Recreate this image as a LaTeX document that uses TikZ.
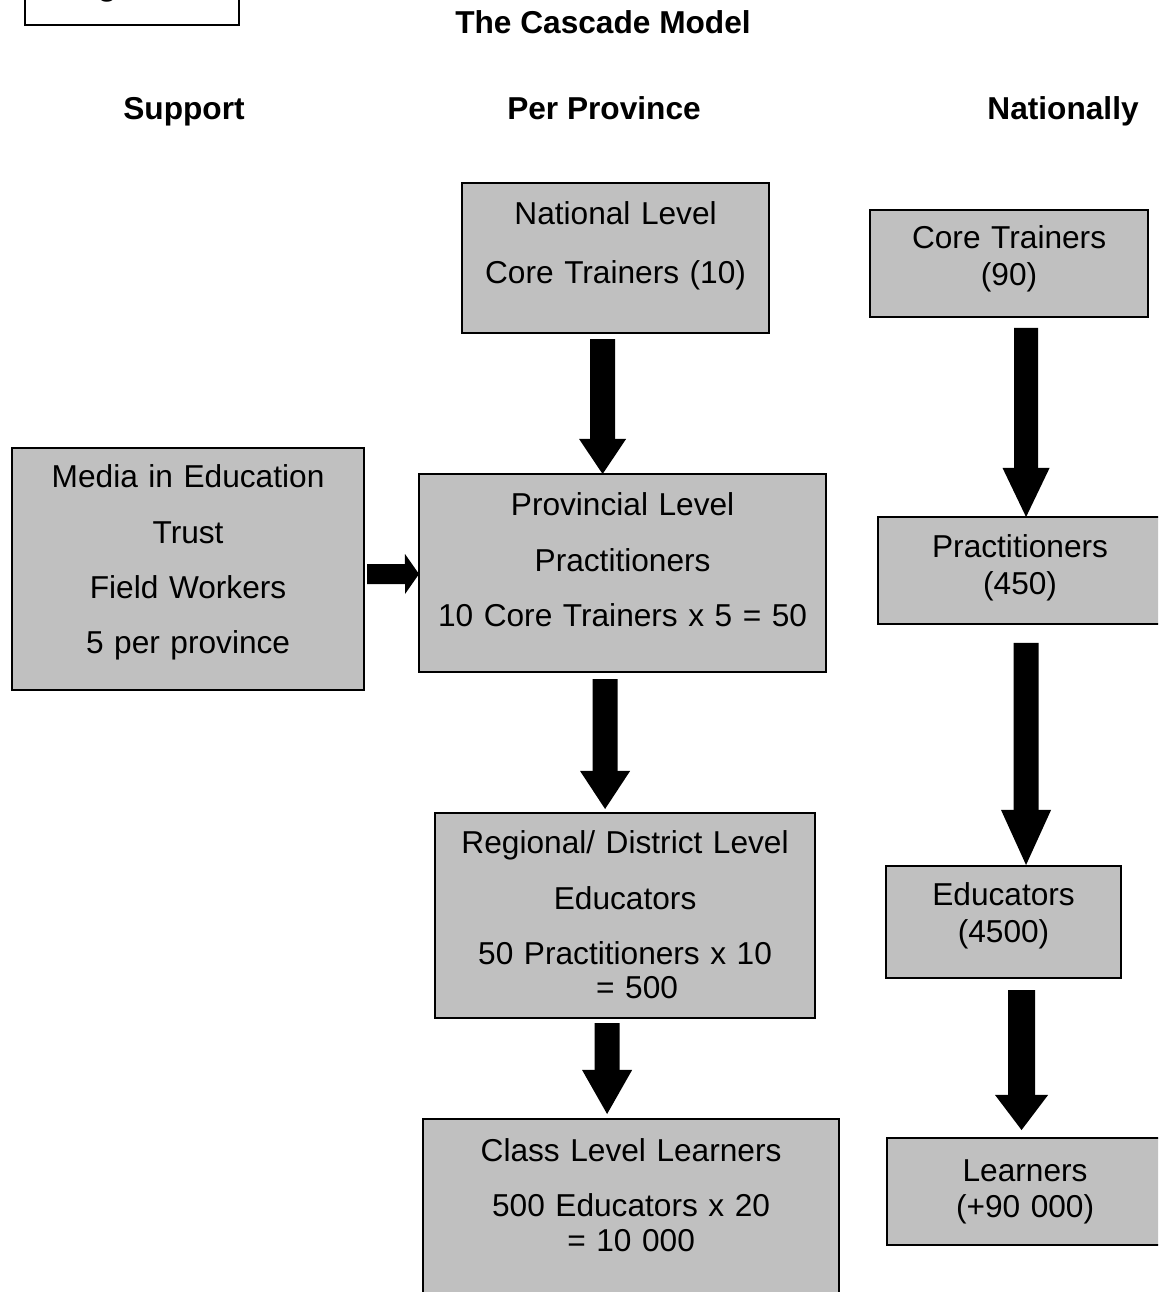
\documentclass[tikz,border=0pt]{standalone}
\usepackage{fontspec}
\setmainfont{Liberation Sans}
\usetikzlibrary{arrows.meta,calc}
\definecolor{boxgray}{RGB}{192,192,192}
\begin{document}
\begin{tikzpicture}[x=0.01cm,y=-0.01cm,
  box/.style={draw=black, line width=0.55pt, fill=boxgray, anchor=north west,
    inner xsep=0pt, inner ysep=0pt, align=center,
    font=\fontsize{9pt}{0.36cm}\selectfont},
  title/.style={anchor=base, inner sep=0pt, font=\fontsize{9pt}{0.36cm}\selectfont\bfseries},
  blk/.style n args={3}{draw=black, line width=#1, line cap=butt,
    -{Triangle[width=#2,length=#3,line width=0pt]}},
]
\useasboundingbox (0,0) rectangle (1158,1292);
\clip (0,0) rectangle (1158,1292);

% figure label box (cut at top, as in the reference)
\node[draw=black, line width=0.55pt, anchor=south west, inner xsep=0pt, inner ysep=0pt,
  text width=2.14cm, align=center, text height=0.40cm, text depth=0.30cm,
  font=\fontsize{9pt}{0.36cm}\selectfont\bfseries] (fig) at (24,26) {Figure 1};

% titles
\node[title] (ttl) at (603,34) {The Cascade Model};
\node[title] (hsup) at (184,120) {Support};
\node[title] (hprov) at (604,120) {Per Province};
\node[title] (hnat) at (1063,120) {Nationally};

% middle column
\node[box, text width=3.07cm, text height=0.42cm, text depth=1.08cm] (nat) at (461,182)
  {National Level\\[0.22cm]Core Trainers (10)};
\node[box, text width=4.07cm, text height=0.42cm, text depth=1.56cm] (prov) at (418,473)
  {Provincial Level\\[0.19cm]Practitioners\\[0.195cm]10 Core Trainers x 5 = 50};
\node[box, text width=3.80cm, text height=0.41cm, text depth=1.64cm] (reg) at (434,812)
  {Regional/ District Level\\[0.19cm]Educators\\[0.19cm]50 Practitioners x 10\\[-0.02cm]\hspace*{0.24cm}= 500};
\node[box, text width=4.16cm, text height=0.42cm, text depth=1.60cm] (class) at (422,1118)
  {Class Level Learners\\[0.19cm]500 Educators x 20\\[-0.01cm]= 10 000};

% support
\node[box, text width=3.52cm, text height=0.40cm, text depth=2.02cm] (media) at (11,447)
  {Media in Education\\[0.19cm]Trust\\[0.19cm]Field Workers\\[0.19cm]5 per province};

% national column
\node[box, text width=2.78cm, text height=0.39cm, text depth=0.68cm] (rc) at (869,209)
  {Core Trainers\\(90)};
\node[box, text width=2.84cm, text height=0.41cm, text depth=0.66cm] (rp) at (877,516)
  {Practitioners\\(450)};
\node[box, text width=2.35cm, text height=0.40cm, text depth=0.72cm] (re) at (885,865)
  {Educators\\(4500)};
\node[box, text width=2.76cm, text height=0.43cm, text depth=0.64cm] (rl) at (886,1137)
  {Learners\\(+90 000)};

% arrows
\draw[blk={0.25cm}{0.47cm}{0.35cm}] ($(nat.south)+(-13,5)$) -- ($(prov.north)+(-20,1)$);
\draw[blk={0.25cm}{0.50cm}{0.38cm}] ($(prov.south)+(-17.5,6)$) -- ($(reg.north)+(-20,-3)$);
\draw[blk={0.25cm}{0.50cm}{0.44cm}] ($(reg.south)+(-18,4)$) -- ($(class.north)+(-24,-4)$);
\draw[blk={0.20cm}{0.40cm}{0.14cm}] ($(media.east)+(2,5)$) -- ($(prov.west)+(1,1)$);
\draw[blk={0.24cm}{0.47cm}{0.49cm}] ($(rc.south)+(17,10)$) -- ($(rp.north)+(6,1)$);
\draw[blk={0.25cm}{0.50cm}{0.55cm}] ($(rp.south)+(6,18)$) -- ($(re.north)+(22.5,0)$);
\draw[blk={0.27cm}{0.53cm}{0.35cm}] ($(re.south)+(18,11)$) -- ($(rl.north)+(-3.5,-7)$);
\end{tikzpicture}
\end{document}
